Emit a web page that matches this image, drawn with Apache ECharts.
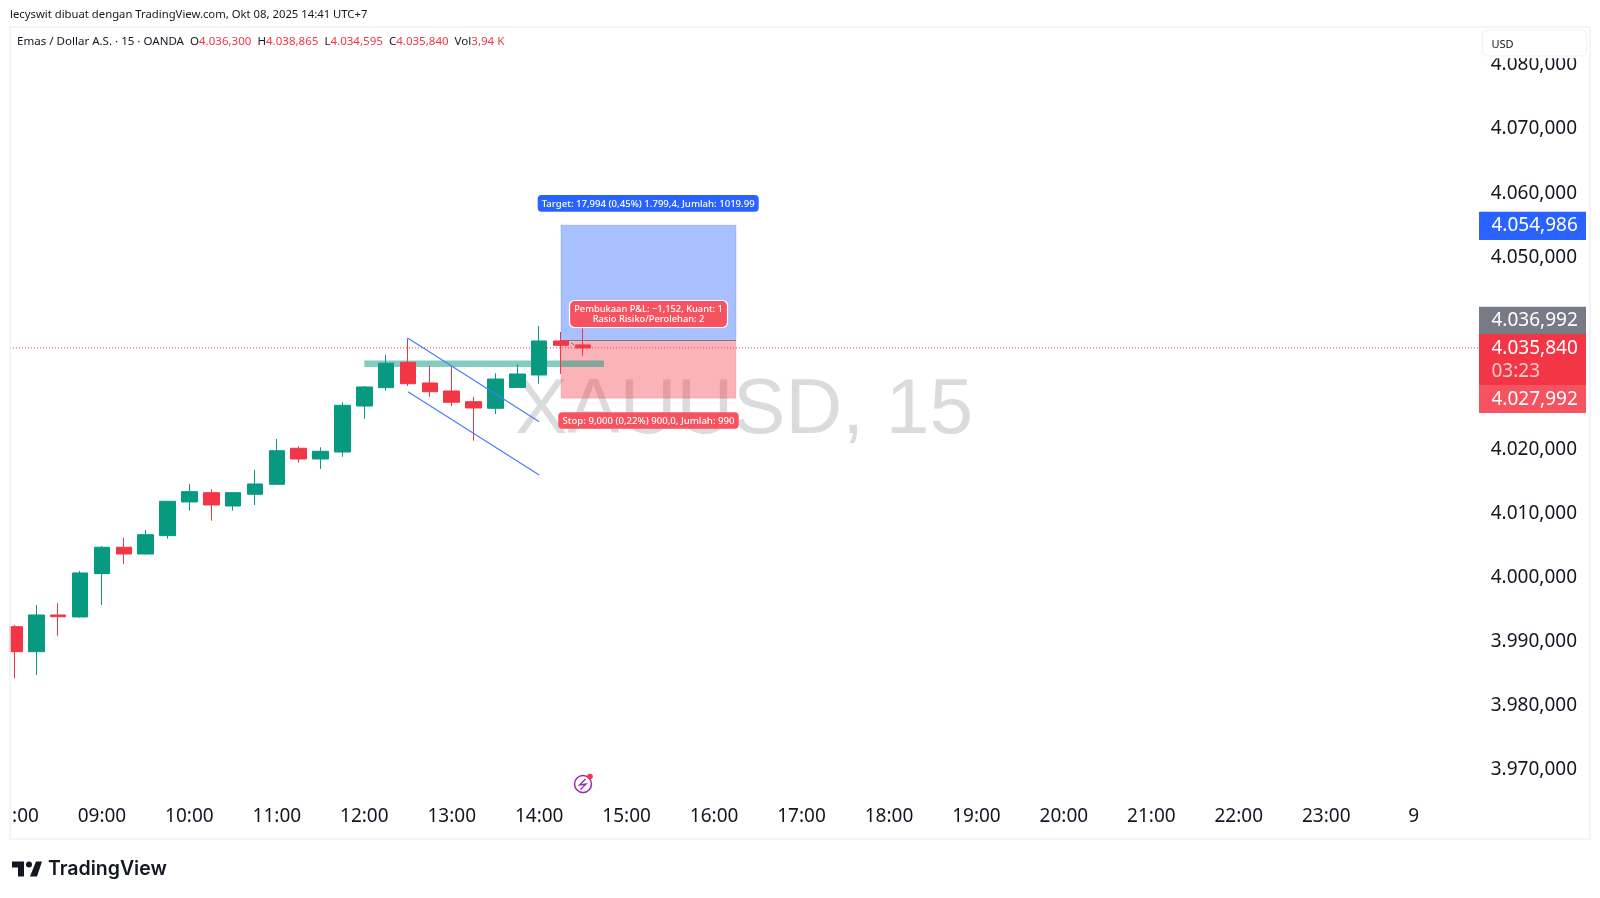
<!DOCTYPE html>
<html><head><meta charset="utf-8">
<style>html,body{margin:0;padding:0;background:#fff}#c{width:1600px;height:898px}</style>
<script src="https://cdn.jsdelivr.net/npm/echarts@6/dist/echarts.min.js"></script>
</head><body><div id="c"></div>
<script>
const barTimes=['08:00','08:15','08:30','08:45','09:00','09:15','09:30','09:45','10:00','10:15','10:30','10:45','11:00','11:15','11:30','11:45','12:00','12:15','12:30','12:45','13:00','13:15','13:30','13:45','14:00','14:15','14:30'];
const opens =[3992.32,3988.42,3994.15,3993.84,4000.60,4004.72,4003.67,4006.53,4011.79,4013.24,4011.16,4012.99,4014.55,4020.17,4018.50,4019.59,4026.77,4029.63,4033.59,4030.36,4029.11,4027.44,4026.41,4029.67,4031.61,4036.92,4036.30];
const closes=[3988.42,3994.15,3993.88,4000.71,4004.72,4003.67,4006.68,4011.90,4013.40,4011.32,4013.24,4014.60,4019.79,4018.50,4019.70,4026.88,4029.74,4033.44,4030.25,4029.00,4027.35,4026.46,4030.98,4031.76,4036.92,4036.24,4035.84];
const lows  =[3984.27,3984.78,3990.92,3993.73,3995.71,4002.11,4003.60,4006.06,4010.43,4008.87,4010.43,4011.32,4014.50,4017.92,4016.94,4018.86,4024.79,4029.16,4029.89,4028.22,4026.77,4021.35,4025.52,4029.94,4030.25,4031.76,4034.595];
const highs =[3992.59,3995.71,3995.98,4001.02,4004.92,4006.21,4007.42,4011.95,4014.60,4013.77,4013.30,4016.78,4021.62,4020.48,4020.32,4027.35,4029.89,4034.78,4037.34,4033.01,4033.01,4028.22,4031.87,4033.28,4039.26,4038.32,4038.865];
const hourTicks=[8,9,10,11,12,13,14,15,16,17,18,19,20,21,22,23,24];
const priceTicks=[3970,3980,3990,4000,4010,4020,4030,4040,4050,4060,4070,4080];
const lastClose=4035.84, entry=4036.992, target=4054.986, stop=4027.992;
const posStart=14.25, posEnd=16.25;
const xMin=7.9485, xMax=24.747;
const zoneLine=[[12,4033.37],[14.74,4033.37]];
const channelUpper=[[12.5,4037.34],[14,4024.32]];
const channelLower=[[12.5,4029.0],[14,4016.0]];
const pnlLink=[[14.36,4036.6],[14.49,4035.75]];

const GREEN='#089981',RED='#F23645',SOFTRED='#F7525F',BLUE='#2962FF',GRAY='#787B86',INK='#131722';
const FONT='"Noto Sans"';
const toH=s=>{const [h,m]=s.split(':').map(Number);return h+m/60;};
const fmt=v=>{const [a,b]=v.toFixed(3).split('.');return a.replace(/\B(?=(\d{3})+$)/g,'.')+','+b;};
const candles=barTimes.map((t,i)=>[toH(t),opens[i],closes[i],lows[i],highs[i]]);
const lineSeries=(data,z,lineStyle,extra)=>Object.assign({type:'line',data,symbol:'none',silent:true,z,clip:true,
  lineStyle,animation:false},extra||{});
const tag=(y,h,fill,text,dy)=>({type:'group',z:50,children:[
  {type:'rect',z:50,shape:{x:1479,y,width:107,height:h},style:{fill}},
  {type:'text',z:51,style:{x:1491.5,y:y+h/2+(dy||0),text,fill:'#fff',font:'19px '+FONT,verticalAlign:'middle',textAlign:'left'}}]});
const note=(x,y,w,h,fill,text,size,stroke)=>({type:'group',z:60,children:[
  {type:'rect',z:60,shape:{x,y,width:w,height:h,r:stroke?5:4},style:{fill,stroke:stroke||fill,lineWidth:stroke?1.2:0}},
  {type:'text',z:61,style:{x:x+w/2,y:y+h/2+0.5,text,fill:'#fff',font:'500 '+size+'px '+FONT,textAlign:'center',verticalAlign:'middle',lineHeight:10.5}}]});

const chart=echarts.init(document.getElementById('c'),null,{renderer:'canvas'});
chart.setOption({
  animation:false,backgroundColor:'#fff',
  grid:{left:10,right:121,top:64.96,bottom:128.3},
  xAxis:{type:'value',min:xMin,max:xMax,splitLine:{show:false},axisLine:{show:false},axisTick:{show:false},
    axisLabel:{customValues:hourTicks,margin:37,color:INK,fontFamily:FONT,fontSize:19,hideOverlap:false,
      formatter:v=>v===8?'{clip|:00}':(v===24?'9':String(v).padStart(2,'0')+':00'),
      rich:{clip:{fontFamily:FONT,fontSize:19,color:INK,padding:[0,0,0,22]}}}},
  yAxis:{type:'value',position:'right',min:3970,max:4080,interval:10,scale:true,splitLine:{show:false},axisLine:{show:false},axisTick:{show:false},
    axisLabel:{customValues:priceTicks,margin:98,align:'right',color:INK,fontFamily:FONT,fontSize:19,padding:[0,0,4,0],formatter:fmt}},
  series:[
    lineSeries([],1,{width:0},{markArea:{silent:true,z:1,data:[
      [{coord:[posStart,target],itemStyle:{color:'rgba(41,98,255,0.4)',borderColor:'rgba(41,98,255,0.25)',borderWidth:1}},{coord:[posEnd,entry]}],
      [{coord:[posStart,entry],itemStyle:{color:'rgba(242,54,69,0.38)',borderColor:'rgba(242,54,69,0.15)',borderWidth:1}},{coord:[posEnd,stop]}]
    ]}}),
    lineSeries([[posStart,entry],[posEnd,entry]],2,{color:GRAY,width:1}),
    lineSeries(zoneLine,2,{color:'rgba(8,153,129,0.5)',width:6.5,cap:'butt'}),
    lineSeries([[xMin,lastClose],[xMax,lastClose]],2,{color:RED,width:1,type:[1,2]}),
    {type:'candlestick',z:3,data:candles,encode:{x:0,y:[1,2,3,4]},barWidth:16,silent:true,clip:true,
      itemStyle:{color:GREEN,color0:RED,borderColor:GREEN,borderColor0:RED,borderWidth:1}},
    lineSeries(channelUpper,4,{color:'#4a7bff',width:1.2}),
    lineSeries(channelLower,4,{color:'#4a7bff',width:1.2}),
    lineSeries(pnlLink,4,{color:GRAY,width:1,type:'dashed'})
  ],
  graphic:{elements:[
    {type:'text',z:0,style:{x:515,y:411,text:'XAUUSD, 15',fill:'#DADBDD',font:'78.5px "Liberation Sans"',verticalAlign:'middle'}},
    {type:'rect',z:85,shape:{x:0,y:26,width:9.5,height:813},style:{fill:'#fff'}},
    {type:'rect',z:90,shape:{x:10,y:27,width:1580,height:812},style:{fill:'none',stroke:'#F0F1F3',lineWidth:1.5}},
    {type:'text',z:70,style:{x:10,y:15,text:'lecyswit dibuat dengan TradingView.com, Okt 08, 2025 14:41 UTC+7',fill:INK,font:'11.3px "Noto Sans"',verticalAlign:'middle'}},
    {type:'text',z:70,style:{x:17,y:41.5,fill:INK,font:'11.55px "Noto Sans"',verticalAlign:'middle',
      rich:{r:{fill:RED,font:'11.55px "Noto Sans"'},k:{fill:INK,font:'11.55px "Noto Sans"'}},
      text:'{k|Emas / Dollar A.S. · 15 · OANDA  O}{r|4.036,300}{k|  H}{r|4.038,865}{k|  L}{r|4.034,595}{k|  C}{r|4.035,840}{k|  Vol}{r|3,94 K}'}},
    {type:'rect',z:79,shape:{x:1479,y:29,width:110,height:29.3},style:{fill:'#fff'}},
    {type:'rect',z:80,shape:{x:1482.5,y:30,width:104,height:26,r:4},style:{fill:'#fff',stroke:'#F0F1F3',lineWidth:1}},
    {type:'text',z:81,style:{x:1491.5,y:44.5,text:'USD',fill:INK,font:'11px "Noto Sans"',verticalAlign:'middle'}},
    tag(211.7,28.3,BLUE,fmt(target)),
    tag(306.7,27.5,GRAY,fmt(entry)),
    {type:'group',z:50,children:[
      {type:'rect',z:50,shape:{x:1479,y:334,width:107,height:51},style:{fill:RED}},
      {type:'text',z:51,style:{x:1491.5,y:349,text:fmt(lastClose),fill:'#fff',font:'19px '+FONT,verticalAlign:'middle'}},
      {type:'text',z:51,style:{x:1491.5,y:371.5,text:'03:23',fill:'#FCCBCD',font:'19px '+FONT,verticalAlign:'middle'}}]},
    tag(385,28,SOFTRED,fmt(stop),1),
    note(537.7,195,221,16.7,BLUE,'Target: 17,994 (0,45%) 1.799,4, Jumlah: 1019.99',9.6),
    note(558.3,412.3,180.4,16.4,SOFTRED,'Stop: 9,000 (0,22%) 900,0, Jumlah: 990',9.6),
    note(569.5,300.5,158,27,SOFTRED,'Pembukaan P&L: −1,152, Kuant: 1\nRasio Risiko/Perolehan: 2',9.3,'#fff'),
    {type:'circle',z:60,shape:{cx:583,cy:784,r:8.5},style:{fill:'#fff',stroke:'#9C27B0',lineWidth:1.5}},
    {type:'polyline',z:61,shape:{points:[[585.5,779],[579.5,785],[586,784],[580.5,789.5]]},style:{fill:'none',stroke:'#9C27B0',lineWidth:1.3}},
    {type:'circle',z:62,shape:{cx:590,cy:776.5,r:2.8},style:{fill:RED}},
    {type:'polygon',z:60,shape:{points:[[12,861.5],[24,861.5],[24,876.5],[18,876.5],[18,867.5],[12,867.5]]},style:{fill:INK}},
    {type:'polygon',z:60,shape:{points:[[37,876.5],[30,876.5],[36,861.5],[42,861.5]]},style:{fill:INK}},
    {type:'circle',z:60,shape:{cx:29,cy:864.5,r:3},style:{fill:INK}},
    {type:'text',z:60,style:{x:48,y:869.5,text:'TradingView',fill:INK,font:'600 19.5px Inter',verticalAlign:'middle'}}
  ]}
});
</script></body></html>
